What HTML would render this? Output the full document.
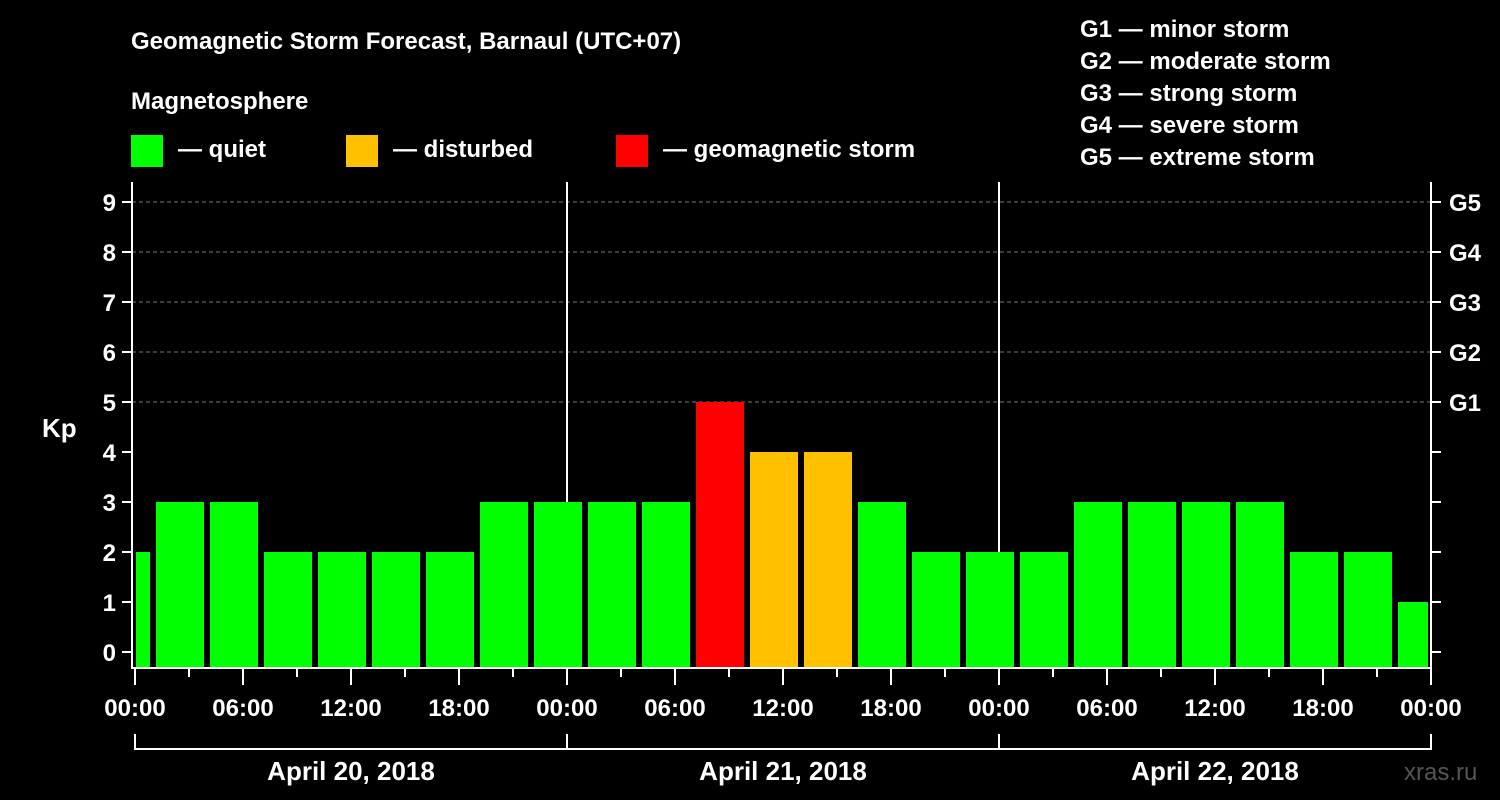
<!DOCTYPE html>
<html><head><meta charset="utf-8"><style>
body{margin:0;background:#000;}
svg{display:block;font-family:"Liberation Sans",sans-serif;font-weight:bold;}
</style></head><body>
<svg width="1500" height="800" viewBox="0 0 1500 800">
<rect width="1500" height="800" fill="#000"/>
<text x="131" y="49" fill="#fff" font-size="24">Geomagnetic Storm Forecast, Barnaul (UTC+07)</text>
<text x="131" y="109" fill="#fff" font-size="24">Magnetosphere</text>
<g><rect x="131" y="135" width="32" height="32" fill="#00ff00"/><text x="178" y="157" fill="#fff" font-size="24">— quiet</text></g>
<g><rect x="346" y="135" width="32" height="32" fill="#ffc000"/><text x="393" y="157" fill="#fff" font-size="24">— disturbed</text></g>
<g><rect x="616" y="135" width="32" height="32" fill="#ff0000"/><text x="663" y="157" fill="#fff" font-size="24">— geomagnetic storm</text></g>
<g fill="#fff" font-size="24">
<text x="1080" y="37">G1 — minor storm</text>
<text x="1080" y="69">G2 — moderate storm</text>
<text x="1080" y="101">G3 — strong storm</text>
<text x="1080" y="133">G4 — severe storm</text>
<text x="1080" y="165">G5 — extreme storm</text>
</g>
<text x="42" y="437" fill="#fff" font-size="26">Kp</text>
<text x="1404" y="780" fill="#555" font-size="24" font-weight="normal">xras.ru</text>
<g id="plot"></g>
</svg>
<script>
const kpValues=[2,3,3,2,2,2,2,3,3,3,3,5,4,4,3,2,2,2,3,3,3,3,2,2,1];
const yTicks=[0,1,2,3,4,5,6,7,8,9];
const gLabels=["G1","G2","G3","G4","G5"];
const dayLabels=["April 20, 2018","April 21, 2018","April 22, 2018"];
const hourLabels=["00:00","06:00","12:00","18:00"];
const binStart=-2, binHours=3, totalHours=72;
const X0=135, PXH=18, Y0=652, PXK=50, TOP=182, BOT=668, RIGHT=1431;
const xs=h=>X0+h*PXH, ys=k=>Y0-k*PXK;
const ns="http://www.w3.org/2000/svg", g=document.getElementById('plot');
function mk(t,a){const e=document.createElementNS(ns,t);for(const k in a)e.setAttribute(k,a[k]);g.appendChild(e);return e;}
// gridlines
yTicks.forEach(k=>{if(k>=5){const l=mk('line',{x1:132,x2:RIGHT,y1:ys(k),y2:ys(k),stroke:'#777','stroke-dasharray':'4,3'});

}});
// day separators
[1,2].forEach(d=>{const l=mk('line',{x1:xs(d*24),x2:xs(d*24),y1:TOP,y2:BOT,stroke:'#fff','stroke-width':2});

});
// bars
kpValues.forEach((v,i)=>{let h0=binStart+i*binHours,h1=h0+binHours;
let x1=xs(h0)+3,x2=xs(h1)-3;x1=Math.max(x1,X0+1);x2=Math.min(x2,RIGHT-3);
const c=v>=5?'#ff0000':v>=4?'#ffc000':'#00ff00';
const r=mk('rect',{x:x1,y:ys(v),width:x2-x1,height:BOT-ys(v),fill:c});

});
// frame
const f=mk('path',{d:`M132 ${TOP}V${BOT}H${RIGHT}V${TOP}`,fill:'none',stroke:'#fff','stroke-width':2});


// y ticks
yTicks.forEach(k=>{mk('line',{x1:122,x2:132,y1:ys(k),y2:ys(k),stroke:'#fff','stroke-width':2});
mk('line',{x1:RIGHT,x2:RIGHT+10,y1:ys(k),y2:ys(k),stroke:'#fff','stroke-width':2});
const t=mk('text',{x:116,y:ys(k)+9,fill:'#fff','font-size':24,'text-anchor':'end'});t.textContent=k;

});
gLabels.forEach((s,i)=>{const t=mk('text',{x:1449,y:ys(5+i)+9,fill:'#fff','font-size':24});t.textContent=s;

});
// x ticks
for(let h=0;h<=totalHours;h+=3){const major=h%6===0;
mk('line',{x1:xs(h),x2:xs(h),y1:BOT,y2:major?685:677,stroke:'#fff','stroke-width':2});
if(major){const t=mk('text',{x:xs(h),y:716,fill:'#fff','font-size':24,'text-anchor':'middle'});t.textContent=hourLabels[(h/6)%4];

}}
// day brackets
dayLabels.forEach((s,d)=>{const a=xs(d*24),b=xs(d*24+24);
mk('path',{d:`M${a} 734V749H${b}V734`,fill:'none',stroke:'#fff','stroke-width':2});
const t=mk('text',{x:(a+b)/2,y:780,fill:'#fff','font-size':26,'text-anchor':'middle'});t.textContent=s;

});
</script>
</body></html>
